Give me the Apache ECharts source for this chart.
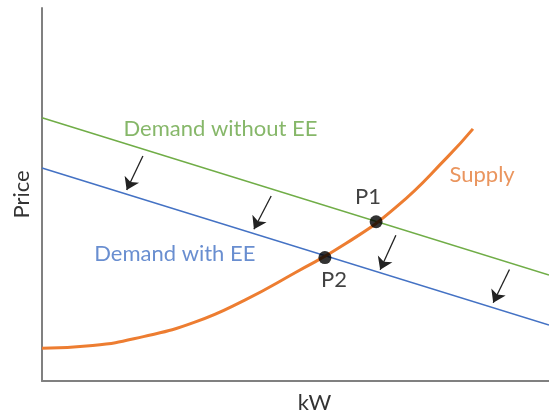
<!DOCTYPE html>
<html>
<head>
<meta charset="utf-8">
<script src="https://cdn.jsdelivr.net/npm/echarts@6/dist/echarts.min.js"></script>
<style>
html,body{margin:0;padding:0;background:#fff;}
#chart{width:549px;height:416px;}
</style>
</head>
<body>
<div id="chart"></div>
<script>
// Demand curves (straight lines), x = quantity (kW, 0-100), y = price (0-100)
const demandWithoutEE = [[0, 70.6], [100, 28.4]];
const demandWithEE = [[0, 57.1], [100, 15.0]];
// Supply curve points
const supply = [
  [0, 8.8], [10, 9.5], [20, 11.9], [30, 15.7], [40, 21.7], [50, 29.1],
  [60, 36.9], [70, 46.8], [80, 60.1], [85, 67.6]
];
// Equilibrium points
const equilibria = [[65.9, 42.7], [55.8, 33.1]];
// Shift arrows: [tail, tip]
const shiftArrows = [
  [[19.9, 60.3], [16.7, 51.2]],
  [[45.2, 49.6], [41.8, 40.7]],
  [[69.8, 39.1], [66.7, 29.8]],
  [[92.2, 29.9], [89.0, 21.0]]
];
// Annotation texts
const annotationTexts = ['Demand without EE', 'Demand with EE', 'Supply', 'P1', 'P2'];
const annotationCoords = [[35.2, 67.7], [26.2, 34.2], [86.8, 55.2], [64.3, 49.4], [57.6, 27.1]];
const annotationColors = ['#68A544', '#4472C4', '#E57A36', '#111111', '#111111'];

const FONT = 'Lato, "Open Sans", sans-serif';
const chart = echarts.init(document.getElementById('chart'), null, {renderer: 'canvas'});

const option = {
  animation: false,
  backgroundColor: '#ffffff',
  grid: {left: 42, right: 0, top: 8, bottom: 35, containLabel: false, outerBoundsMode: 'none'},
  xAxis: {
    type: 'value', min: 0, max: 100,
    name: 'kW', nameLocation: 'middle', nameGap: 11,
    nameTextStyle: {fontFamily: FONT, fontSize: 22, color: '#333333', padding: [0, 0, 0, 38]},
    axisLine: {show: true, onZero: false, lineStyle: {color: '#808080', width: 2}},
    axisTick: {show: false}, axisLabel: {show: false}, splitLine: {show: false}
  },
  yAxis: {
    type: 'value', min: 0, max: 100,
    name: 'Price', nameLocation: 'middle', nameGap: 9,
    nameTextStyle: {fontFamily: FONT, fontSize: 22, color: '#333333'},
    axisLine: {show: true, onZero: false, lineStyle: {color: '#808080', width: 2}},
    axisTick: {show: false}, axisLabel: {show: false}, splitLine: {show: false}
  },
  series: [
    {
      name: 'Demand without EE', type: 'line', data: demandWithoutEE, showSymbol: false,
      lineStyle: {color: '#70AD47', width: 1.6}, z: 2
    },
    {
      name: 'Demand with EE', type: 'line', data: demandWithEE, showSymbol: false,
      lineStyle: {color: '#4472C4', width: 1.6}, z: 2
    },
    {
      name: 'Supply', type: 'line', data: supply, showSymbol: false, smooth: 0.5,
      lineStyle: {color: '#ED7D31', width: 3}, z: 3
    },
    {
      name: 'Shift', type: 'lines', coordinateSystem: 'cartesian2d',
      data: shiftArrows.map(a => ({coords: a})),
      symbol: ['none', 'arrow'], symbolSize: [0, 12],
      lineStyle: {color: '#222222', width: 1.3, opacity: 1}, z: 4
    },
    {
      name: 'Equilibrium', type: 'scatter', data: equilibria, symbol: 'circle', symbolSize: 13,
      itemStyle: {color: '#000000'}, z: 5
    },
    {
      name: 'Annotations', type: 'scatter', symbolSize: 0, z: 6,
      data: annotationTexts.map((t, i) => ({
        name: t, value: annotationCoords[i],
        label: {color: annotationColors[i]}
      })),
      label: {
        show: true, position: 'inside', formatter: p => p.name,
        fontFamily: FONT, fontSize: 22
      }
    }
  ]
};
chart.setOption(option);
</script>
</body>
</html>
